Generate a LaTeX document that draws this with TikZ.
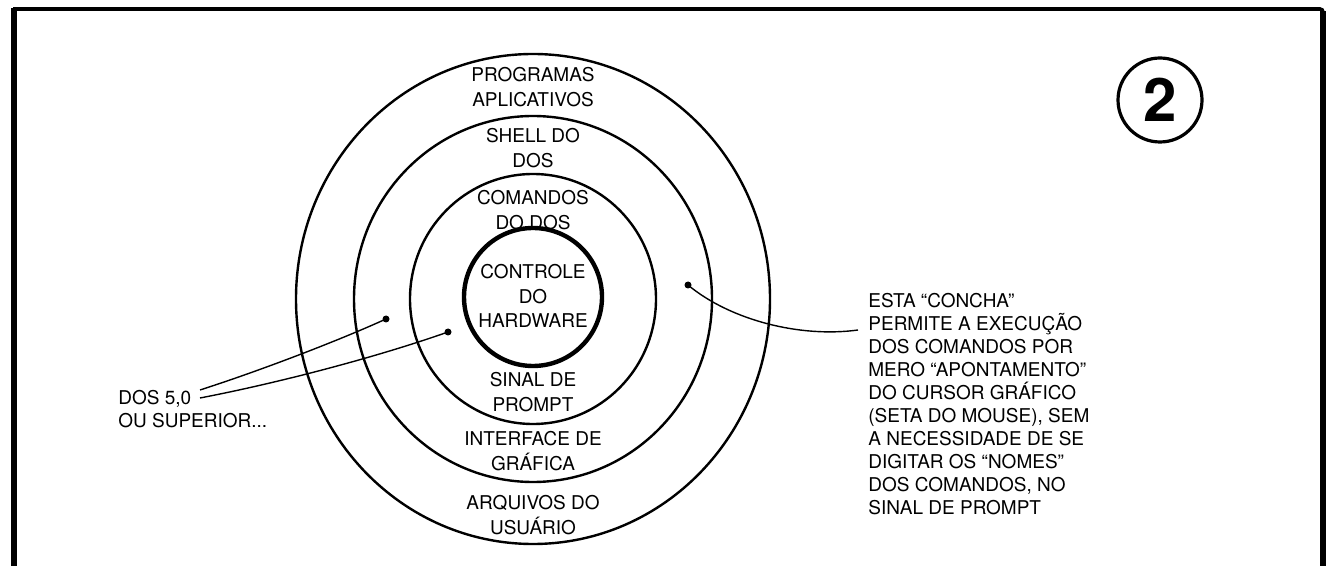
\documentclass[tikz,border=0pt]{standalone}
\usepackage{fontspec}
\setmainfont{TeX Gyre Heros}
\usetikzlibrary{positioning}

\tikzset{
  ring/.style={line width=1.2pt},
  core/.style={line width=2.2pt},
  lbl/.style={align=center,inner sep=0pt,font=\fontsize{9.5}{12.25}\selectfont},
  note/.style={align=left,inner sep=0pt,font=\fontsize{9.5}{11.5}\selectfont},
  leader/.style={line width=0.7pt},
  pin/.style={circle,fill,inner sep=0pt,minimum size=3.5pt}
}

\begin{document}
\begin{tikzpicture}[x=0.5pt,y=-0.5pt]
\useasboundingbox (0,0) rectangle (1333,566);
\draw[line width=1.8pt] (13,9) -- (1320,9) to[out=0,in=90] (1323,12);
\draw[line width=2.6pt] (14,566) -- (14,8);
\draw[line width=3pt] (1323,11) -- (1323,566);

\foreach \rx/\ry in {237/245,179/183,123/125}
  \draw[ring] (533,299) ellipse [x radius=\rx, y radius=\ry];
\draw[core] (533,297) circle [radius=69];

\node[lbl] (apps) at (533,87) {PROGRAMAS\\APLICATIVOS};
\node[lbl] (shell) at (533,148) {SHELL DO\\DOS};
\node[lbl] (cmds) at (533,210) {COMANDOS\\DO DOS};
\node[lbl] (hw) at (533,296) {CONTROLE\\DO\\HARDWARE};
\node[lbl] (prompt) at (533,392) {SINAL DE\\PROMPT};
\node[lbl] (gui) at (533,451) {INTERFACE DE\\GRÁFICA};
\node[lbl] (files) at (533,515) {ARQUIVOS DO\\USUÁRIO};

\node[note,anchor=north west] (dos) at (118,390) {DOS 5,0\\OU SUPERIOR...};
\node[note,anchor=north west] (shellnote) at (868,293) {ESTA “CONCHA”\\
PERMITE A EXECUÇÃO\\
DOS COMANDOS POR\\
MERO “APONTAMENTO”\\
DO CURSOR GRÁFICO\\
(SETA DO MOUSE), SEM\\
A NECESSIDADE DE SE\\
DIGITAR OS “NOMES”\\
DOS COMANDOS, NO\\
SINAL DE PROMPT};

\node[draw,circle,line width=1.6pt,minimum size=42pt,inner sep=0pt,
  font=\bfseries\fontsize{30}{30}\selectfont] (fig) at (1160,100) {2};

\node[pin] (p1) at (386,319) {};
\node[pin] (p2) at (448,332) {};
\node[pin] (p3) at (688,285) {};
\coordinate (s1) at (200,390);
\coordinate (s2) at (200,398);
\coordinate (e3) at (858,330);

\draw[leader] (s1) .. controls (262,370) and (340,340) .. (p1.center);
\draw[leader] (s2) .. controls (283,382) and (380,356) .. (p2.center);
\draw[leader] (p3.center) .. controls (730,320) and (800,338) .. (e3);
\end{tikzpicture}
\end{document}
